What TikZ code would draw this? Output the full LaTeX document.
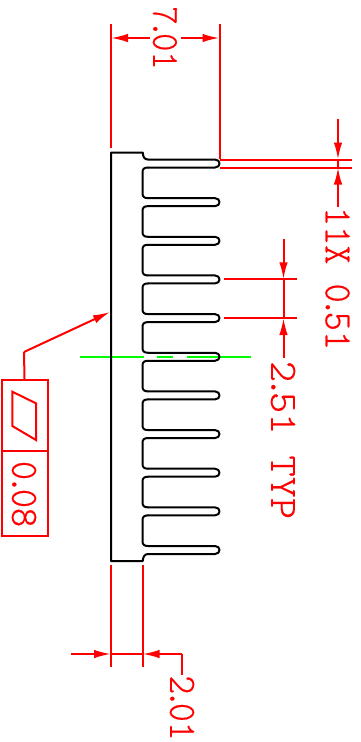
\documentclass[tikz,border=0pt]{standalone}
\usepackage{fontspec}
\newfontfamily\cadfont[RawFeature={embolden=0.5}]{Latin Modern Mono Light}
\usetikzlibrary{arrows.meta}
\newcommand{\dotk}{\kern-.14em.\kern-.14em}
\tikzset{
  dimline/.style={draw=red,line width=2pt},
  dimarrow/.style={dimline,-{Latex[length=17pt,width=8.5pt]}},
  part/.style={draw=black,line width=2pt,line cap=round,line join=round},
  center/.style={draw=green,line width=2pt},
  dimtext/.style={red,inner sep=0pt,rotate=-90,font=\cadfont\fontsize{36}{36}\selectfont},
  frame/.style={draw=red,line width=2pt}
}
\begin{document}
\begin{tikzpicture}[x=1pt,y=-1pt]
\useasboundingbox (0,0) rectangle (361,742);
% centre line
\draw[center] (80,356.5) -- (144,356.5) (157,356.5) -- (173,356.5) (187,356.5) -- (251,356.5);
% part outline
\draw[part] (148,159.5) .. controls (144.5,159.5) and (143,157) .. (142.7,152.5) -- (111,152.5) -- (111,561) -- (142.7,561)
  .. controls (143,557) and (144.5,554) .. (148,554);
\foreach \c [evaluate=\c as \t using {163.5+38.65*\c}] in {0,...,10} {
  \draw[part] (148,\t-4) -- (215,\t-4) .. controls (221,\t-4) and (221,\t+4) .. (215,\t+4) -- (148,\t+4);
}
\foreach \c [evaluate=\c as \t using {163.5+38.65*\c}] in {0,...,9} {
  \draw[part] (148,\t+4) .. controls (144,\t+4) and (142.5,\t+5.5) .. (142.5,\t+9)
     -- (142.5,\t+29.65) .. controls (142.5,\t+33.15) and (144,\t+34.65) .. (148,\t+34.65);
}
% 7.01
\coordinate (a1) at (111,38); \coordinate (a2) at (219.5,38);
\draw[dimline] (111,24) -- (111,148);
\draw[dimline] (219.5,24) -- (219.5,159);
\draw[dimarrow] (150,38) -- (a1);
\draw[dimarrow] (181,38) -- (a2);
\node[dimtext] (t701) at (165,38) {\resizebox{63pt}{24pt}{7\dotk 01}};
% 11X 0.51
\draw[dimline] (220,159.5) -- (352,159.5);
\draw[dimline] (220,167.5) -- (352,167.5);
\coordinate (b1) at (338,159.5); \coordinate (b2) at (338,167.5);
\draw[dimarrow] (338,119) -- (b1);
\draw[dimarrow] (338,207) -- (b2);
\draw[dimline] (b1) -- (b2);
\node[dimtext] (t051) at (337.5,278.5) {\resizebox{143pt}{24pt}{11X 0\dotk 51}};
% 2.51 TYP
\draw[dimline] (224,279.3) -- (297,279.3);
\draw[dimline] (224,318) -- (297,318);
\coordinate (c1) at (283.5,279.3); \coordinate (c2) at (283.5,318);
\draw[dimarrow] (283.5,239) -- (c1);
\draw[dimarrow] (283.5,358) -- (c2);
\draw[dimline] (c1) -- (c2);
\node[dimtext] (t251) at (283,440) {\resizebox{158pt}{24pt}{2\dotk 51 TYP}};
% 2.01
\draw[dimline] (111,565) -- (111,667);
\draw[dimline] (142.5,565) -- (142.5,667);
\coordinate (d1) at (111,654); \coordinate (d2) at (142.5,654);
\draw[dimarrow] (71,654) -- (d1);
\draw[dimline] (182,675) -- (182,654);
\draw[dimarrow] (182,654) -- (d2);
\draw[dimline] (d1) -- (d2);
\node[dimtext] (t201) at (182,708) {\resizebox{65pt}{24pt}{2\dotk 01}};
% feature control frame
\node[frame,minimum width=46pt,minimum height=156pt,inner sep=0pt] (fcf) at (24.5,458) {};
\draw[frame] (1.5,451) -- (47.5,451);
\draw[frame] (12.3,391.7) -- (36,403.3) -- (36,440) -- (12.3,426) -- cycle;
\node[dimtext] (t008) at (24,494) {\resizebox{66pt}{24pt}{0\dotk 08}};
\coordinate (lead) at (24,352);
\coordinate (tip) at (110,312);
\draw[dimline] (fcf.north) -- (lead);
\draw[dimarrow] (lead) -- (tip);
\end{tikzpicture}
\end{document}
